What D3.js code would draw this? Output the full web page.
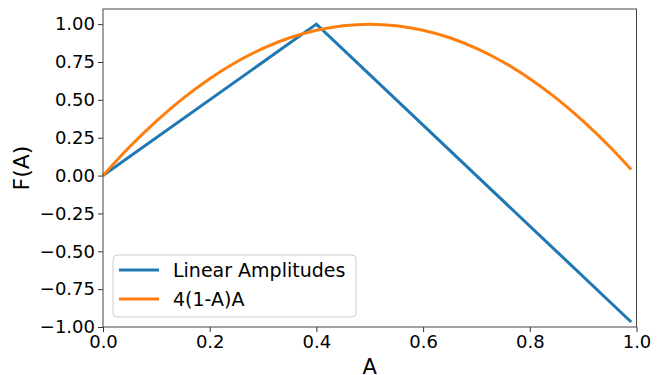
<!DOCTYPE html>
<html><head><meta charset="utf-8">
<script src="https://cdn.jsdelivr.net/npm/d3@7"></script>
<style>body{margin:0;background:#fff;} text{font-family:"DejaVu Sans",sans-serif;}</style>
</head><body>
<svg id="c" width="664" height="375"></svg>
<script>
const linearA = [0, 0.4, 0.99];
const linearF = [0, 1.0, -0.967];
const parabA = [0,0.05,0.1,0.15,0.2,0.25,0.3,0.35,0.4,0.45,0.5,0.55,0.6,0.65,0.7,0.75,0.8,0.85,0.9,0.95,0.99];
const parabF = [0,0.19,0.36,0.51,0.64,0.75,0.84,0.91,0.96,0.99,1.0,0.99,0.96,0.91,0.84,0.75,0.64,0.51,0.36,0.19,0.04];
const xTicks = [0,0.2,0.4,0.6,0.8,1.0];
const yTicks = [-1,-0.75,-0.5,-0.25,0,0.25,0.5,0.75,1.0];
const seriesNames = ["Linear Amplitudes","4(1-A)A"];
const colors = ["#1f77b4","#ff7f0e"];

const svg = d3.select("#c");
const L=103, R=636.5, T=9, B=327;
const x = d3.scaleLinear().domain([0,1]).range([L,R]);
const y = d3.scaleLinear().domain([-1,1.1]).range([B,T]);

const line = d3.line().x(d=>x(d[0])).y(d=>y(d[1]));
const lineSmooth = d3.line().x(d=>x(d[0])).y(d=>y(d[1])).curve(d3.curveMonotoneX);

const data1 = linearA.map((a,i)=>[a,linearF[i]]);
const data2 = parabA.map((a,i)=>[a,parabF[i]]);

svg.append("path").attr("d",line(data1)).attr("fill","none").attr("stroke",colors[0]).attr("stroke-width",3).attr("stroke-linejoin","miter");
svg.append("path").attr("d",lineSmooth(data2)).attr("fill","none").attr("stroke",colors[1]).attr("stroke-width",3);

const xAxis = svg.append("g").attr("transform",`translate(0,${B})`)
  .call(d3.axisBottom(x).tickValues(xTicks).tickFormat(d3.format(".1f")).tickSize(5).tickPadding(3));
const yAxis = svg.append("g").attr("transform",`translate(${L},0)`)
  .call(d3.axisLeft(y).tickValues(yTicks).tickFormat(d3.format(".2f")).tickSize(5).tickPadding(3));
[xAxis,yAxis].forEach(g=>{
  g.select(".domain").remove();
  g.selectAll("line").attr("stroke","#333").attr("stroke-width",1);
  g.selectAll("text").attr("font-size",18).attr("fill","#000").attr("font-family","DejaVu Sans");
});
svg.append("rect").attr("x",L).attr("y",T).attr("width",R-L).attr("height",B-T)
  .attr("fill","none").attr("stroke","#444").attr("stroke-width",1);

svg.append("text").attr("x",(L+R)/2).attr("y",374).attr("text-anchor","middle").attr("font-size",21).text("A");
svg.append("text").attr("transform",`translate(29,${(T+B)/2}) rotate(-90)`).attr("text-anchor","middle").attr("font-size",22).text("F(A)");

const lg = svg.append("g");
lg.append("rect").attr("x",113).attr("y",255).attr("width",243).attr("height",62).attr("rx",4)
  .attr("fill","#fff").attr("fill-opacity",0.8).attr("stroke","#ccc");
seriesNames.forEach((n,i)=>{
  const yy = 270 + i*29;
  lg.append("line").attr("x1",119).attr("x2",159).attr("y1",yy).attr("y2",yy).attr("stroke",colors[i]).attr("stroke-width",3);
  lg.append("text").attr("x",173).attr("y",yy+7).attr("font-size",19).text(n);
});
</script>
</body></html>
